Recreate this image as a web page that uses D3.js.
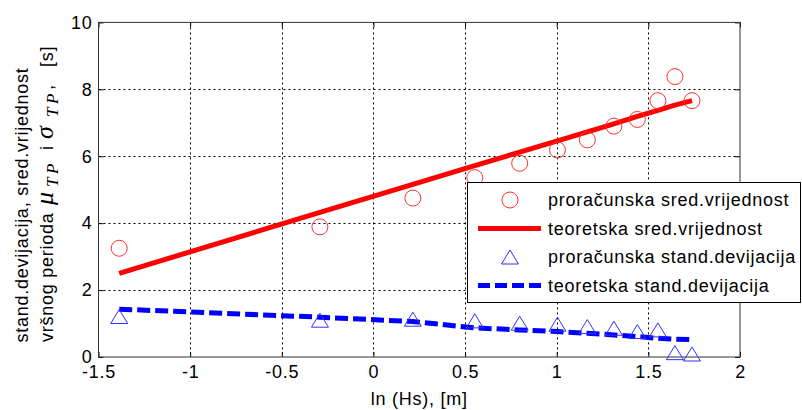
<!DOCTYPE html>
<html>
<head>
<meta charset="utf-8">
<script src="https://cdn.jsdelivr.net/npm/d3@7"></script>
<style>
  body { margin: 0; background: #fff; }
  svg { display: block; font-family: "Liberation Sans", Arial, sans-serif; }
  .lbl { font-size: 18px; letter-spacing: 0.75px; fill: #000; }
</style>
</head>
<body>
<div id="chart"></div>
<script>
// ln(Hs) positions of the computed points
const xObs = [-1.387, -0.292, 0.215, 0.553, 0.798, 1.004, 1.167, 1.312, 1.44, 1.552, 1.645, 1.738];
// proračunska sred.vrijednost (circles)
const meanObs = [3.25, 3.89, 4.75, 5.36, 5.79, 6.19, 6.49, 6.90, 7.10, 7.66, 8.38, 7.66];
// teoretska sred.vrijednost (solid red)
const meanTheory = [2.5, 4.32, 5.16, 5.72, 6.12, 6.46, 6.73, 6.97, 7.19, 7.37, 7.53, 7.66];
// proračunska stand.devijacija (triangles)
const stdObs = [1.21, 1.1, 1.13, 1.08, 1.01, 0.98, 0.91, 0.86, 0.76, 0.81, 0.13, 0.09];
// teoretska stand.devijacija (dashed blue)
const stdTheory = [1.43, 1.19, 1.06, 0.87, 0.81, 0.76, 0.71, 0.66, 0.61, 0.56, 0.53, 0.52];

const xTicks = [-1.5, -1, -0.5, 0, 0.5, 1, 1.5, 2];
const yTicks = [0, 2, 4, 6, 8, 10];

const legendItems = [
  { label: 'proračunska sred.vrijednost', type: 'circle' },
  { label: 'teoretska sred.vrijednost', type: 'line' },
  { label: 'proračunska stand.devijacija', type: 'triangle' },
  { label: 'teoretska stand.devijacija', type: 'dash' }
];

const width = 802, height = 410;
const plot = { left: 98.5, right: 740, top: 22.4, bottom: 357 };

const svg = d3.select('#chart').append('svg')
  .attr('width', width)
  .attr('height', height);

const x = d3.scaleLinear().domain([-1.5, 2]).range([plot.left, plot.right]);
const y = d3.scaleLinear().domain([0, 10]).range([plot.bottom, plot.top]);

// Grid (dotted)
const grid = svg.append('g').attr('stroke', '#000').attr('stroke-width', 1).attr('stroke-dasharray', '2,3');
grid.selectAll('.gx').data(xTicks.slice(1, -1)).join('line')
  .attr('x1', d => Math.round(x(d)) + 0.5).attr('x2', d => Math.round(x(d)) + 0.5)
  .attr('y1', plot.top).attr('y2', plot.bottom);
grid.selectAll('.gy').data(yTicks.slice(1, -1)).join('line')
  .attr('y1', d => Math.round(y(d)) + 0.5).attr('y2', d => Math.round(y(d)) + 0.5)
  .attr('x1', plot.left).attr('x2', plot.right);

// Axes with inward ticks
const axisFont = g => g.selectAll('text').attr('class', 'lbl').attr('font-size', null).attr('fill', null);
svg.append('g')
  .attr('transform', `translate(0,${plot.bottom})`)
  .call(d3.axisBottom(x).tickValues(xTicks).tickSize(-5).tickPadding(8).tickFormat(d => String(d)))
  .call(g => g.select('.domain').remove())
  .call(axisFont)
  .attr('font-family', null).attr('font-size', null);
svg.append('g')
  .attr('transform', `translate(${plot.left},0)`)
  .call(d3.axisLeft(y).tickValues(yTicks).tickSize(-5).tickPadding(6).tickFormat(d => String(d)))
  .call(g => g.select('.domain').remove())
  .call(axisFont)
  .attr('font-family', null).attr('font-size', null);
// ticks on top and right (box)
svg.append('g')
  .attr('transform', `translate(0,${plot.top})`)
  .call(d3.axisTop(x).tickValues(xTicks).tickSize(-5).tickFormat(''))
  .call(g => g.select('.domain').remove());
svg.append('g')
  .attr('transform', `translate(${plot.right},0)`)
  .call(d3.axisRight(y).tickValues(yTicks).tickSize(-5).tickFormat(''))
  .call(g => g.select('.domain').remove());

svg.append('rect')
  .attr('x', plot.left).attr('y', plot.top)
  .attr('width', plot.right - plot.left).attr('height', plot.bottom - plot.top)
  .attr('fill', 'none').attr('stroke', '#333').attr('stroke-width', 1);

// Series
const line = d3.line().x(d => x(d[0])).y(d => y(d[1]));

svg.append('path')
  .datum(xObs.map((v, i) => [v, meanTheory[i]]))
  .attr('d', line)
  .attr('fill', 'none').attr('stroke', '#ff0000').attr('stroke-width', 5);

svg.append('path')
  .datum(xObs.map((v, i) => [v, stdTheory[i]]))
  .attr('d', line)
  .attr('fill', 'none').attr('stroke', '#0000ff').attr('stroke-width', 5)
  .attr('stroke-dasharray', '13,5');

svg.append('g').selectAll('circle')
  .data(xObs.map((v, i) => [v, meanObs[i]]))
  .join('circle')
  .attr('cx', d => x(d[0])).attr('cy', d => y(d[1])).attr('r', 8)
  .attr('fill', 'none').attr('stroke', '#ff3030').attr('stroke-width', 1);

const tri = (cx, cy) => `M${cx},${cy - 7}L${cx + 8.5},${cy + 7}L${cx - 8.5},${cy + 7}Z`;
svg.append('g').selectAll('path')
  .data(xObs.map((v, i) => [v, stdObs[i]]))
  .join('path')
  .attr('d', d => tri(x(d[0]), y(d[1])))
  .attr('fill', 'none').attr('stroke', '#3030ff').attr('stroke-width', 1);

// Legend
const lg = svg.append('g');
lg.append('rect')
  .attr('x', 467.5).attr('y', 182.5).attr('width', 333).attr('height', 120)
  .attr('fill', '#fff').attr('stroke', '#000').attr('stroke-width', 1);
legendItems.forEach((it, i) => {
  const cy = 200 + i * 28.5;
  if (it.type === 'circle') {
    lg.append('circle').attr('cx', 510).attr('cy', cy).attr('r', 8)
      .attr('fill', 'none').attr('stroke', '#ff3030');
  } else if (it.type === 'triangle') {
    lg.append('path').attr('d', tri(510, cy)).attr('fill', 'none').attr('stroke', '#3030ff');
  } else {
    lg.append('line').attr('x1', 478).attr('x2', 541).attr('y1', cy).attr('y2', cy)
      .attr('stroke', it.type === 'line' ? '#ff0000' : '#0000ff').attr('stroke-width', 5)
      .attr('stroke-dasharray', it.type === 'dash' ? '12,5' : null);
  }
  lg.append('text').attr('class', 'lbl').attr('x', 548).attr('y', cy).attr('dy', '0.35em')
    .text(it.label);
});

// Axis labels
svg.append('text').attr('class', 'lbl')
  .attr('x', (plot.left + plot.right) / 2).attr('y', 405)
  .attr('text-anchor', 'middle')
  .text('ln (Hs), [m]');

svg.append('text').attr('class', 'lbl')
  .attr('transform', 'translate(28,205) rotate(-90)')
  .attr('text-anchor', 'middle')
  .text('stand.devijacija, sred.vrijednost');

// second line: text frame x = -screen y
const serif = '"Liberation Serif", "Times New Roman", serif';
const yl2 = svg.append('text').attr('class', 'lbl')
  .attr('transform', 'translate(53,0) rotate(-90)');
const mathPart = (xPos, txt, size, dy) => yl2.append('tspan')
  .attr('x', xPos).attr('dy', dy).attr('font-family', serif).attr('font-style', 'italic')
  .attr('font-size', size).attr('letter-spacing', 0).text(txt);
yl2.append('tspan').attr('x', -342).text('vršnog perioda');
mathPart(-205, 'μ', 26, 0);
mathPart(-187, 'T', 17, 5);
mathPart(-174, 'P', 17, 0);
yl2.append('tspan').attr('x', -150).attr('dy', -5).text('i');
mathPart(-139, 'σ', 26, 0);
mathPart(-117, 'T', 17, 5);
mathPart(-104, 'P', 17, 0);
yl2.append('tspan').attr('x', -90).attr('dy', -5).text(',');
yl2.append('tspan').attr('x', -67).text('[s]');
</script>
</body>
</html>
